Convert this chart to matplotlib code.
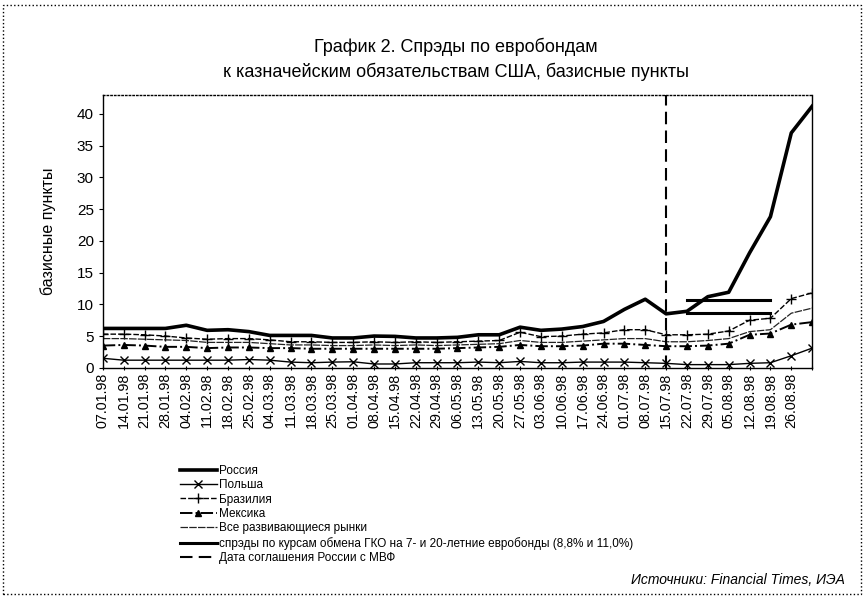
import matplotlib
matplotlib.use("Agg")
import matplotlib.pyplot as plt
import numpy as np
from matplotlib.patches import Rectangle

NARROW = ["Liberation Sans Narrow", "Liberation Sans", "DejaVu Sans"]
REGULAR = ["Liberation Sans", "DejaVu Sans"]
plt.rcParams["font.family"] = NARROW

dates = [
    "07.01.98", "14.01.98", "21.01.98", "28.01.98", "04.02.98", "11.02.98",
    "18.02.98", "25.02.98", "04.03.98", "11.03.98", "18.03.98", "25.03.98",
    "01.04.98", "08.04.98", "15.04.98", "22.04.98", "29.04.98", "06.05.98",
    "13.05.98", "20.05.98", "27.05.98", "03.06.98", "10.06.98", "17.06.98",
    "24.06.98", "01.07.98", "08.07.98", "15.07.98", "22.07.98", "29.07.98",
    "05.08.98", "12.08.98", "19.08.98", "26.08.98", "",
]

russia = [6.2, 6.2, 6.2, 6.2, 6.7, 5.9, 6.0, 5.7, 5.1, 5.1, 5.1, 4.7,
          4.7, 5.0, 4.95, 4.7, 4.7, 4.8, 5.2, 5.2, 6.4, 5.9, 6.1, 6.5,
          7.3, 9.2, 10.8, 8.5, 8.9, 11.2, 11.9, 18.1, 23.8, 37.0, 41.2]
poland = [1.5, 1.2, 1.2, 1.2, 1.2, 1.2, 1.2, 1.3, 1.2, 0.9, 0.8, 0.9,
          0.95, 0.6, 0.6, 0.8, 0.8, 0.8, 0.9, 0.8, 1.0, 0.8, 0.8, 0.9,
          0.9, 0.9, 0.8, 0.7, 0.5, 0.5, 0.5, 0.7, 0.8, 1.9, 3.1]
brazil = [5.3, 5.3, 5.2, 5.0, 4.7, 4.5, 4.6, 4.6, 4.4, 4.1, 4.1, 4.0,
          4.0, 4.1, 4.0, 4.1, 4.0, 4.1, 4.2, 4.3, 5.6, 4.9, 5.0, 5.3,
          5.5, 6.0, 6.0, 5.2, 5.2, 5.3, 5.8, 7.5, 7.8, 10.9, 11.8]
mexico = [3.5, 3.6, 3.5, 3.3, 3.3, 3.1, 3.2, 3.2, 3.1, 3.1, 3.0, 3.0,
          3.0, 3.0, 3.0, 3.0, 3.0, 3.1, 3.2, 3.3, 3.6, 3.4, 3.4, 3.5,
          3.8, 3.8, 3.6, 3.4, 3.4, 3.5, 3.8, 5.2, 5.4, 6.8, 7.2]
emerging = [4.6, 4.6, 4.5, 4.4, 4.3, 4.0, 4.0, 4.0, 3.8, 3.6, 3.6, 3.5,
            3.5, 3.6, 3.5, 3.6, 3.5, 3.6, 3.7, 3.8, 4.3, 4.0, 4.0, 4.2,
            4.4, 4.6, 4.6, 4.1, 4.1, 4.3, 4.6, 5.7, 6.0, 8.6, 9.4]

# GKO exchange spreads (two flat segments) and the IMF agreement date
gko_levels = [10.7, 8.6]
gko_start = 28
gko_end = 32
imf_date = 27

fig = plt.figure(figsize=(8.64, 6.0), dpi=100)
ax = fig.add_axes([0.119, 0.387, 0.821, 0.455])

x = np.arange(len(dates))
ax.plot(x, russia, color="black", lw=2.6, label="Россия")
ax.plot(x, poland, color="black", lw=1.0, marker="x", ms=6, mew=1.0,
        label="Польша")
ax.plot(x, brazil, color="black", lw=1.0, ls=(0, (4, 1.5)), marker="+",
        ms=7, mew=1.0, label="Бразилия")
ax.plot(x, mexico, color="black", lw=1.4, ls="-.", marker="^", ms=5,
        label="Мексика")
ax.plot(x, emerging, color="#222222", lw=0.9, ls=(0, (6, 1)),
        label="Все развивающиеся рынки")
for i, level in enumerate(gko_levels):
    ax.plot([gko_start, gko_end], [level, level], color="black", lw=2.2,
            label=("спрэды по курсам обмена ГКО на 7- и 20-летние "
                   "евробонды (8,8% и 11,0%)") if i == 0 else None)
ax.axvline(imf_date, color="black", lw=1.5, ls=(0, (6, 3)),
           label="Дата соглашения России с МВФ")

ax.set_xlim(0, len(dates) - 1)
ax.set_ylim(0, 43)
ax.set_yticks(np.arange(0, 45, 5))
ax.set_xticks(x)
ax.set_xticklabels(dates, rotation=90, fontsize=10.3, family=REGULAR)
for lbl in ax.get_yticklabels():
    lbl.set_family(REGULAR)
ax.tick_params(axis="y", labelsize=11, length=3, width=0.8)
ax.tick_params(axis="x", length=3, width=0.8, direction="inout", pad=2)
ax.set_ylabel("базисные пункты", fontsize=11.5, labelpad=15, family=REGULAR)

ax.spines["top"].set_linestyle(":")
for side in ["top", "right", "left", "bottom"]:
    ax.spines[side].set_linewidth(1.0)

fig.text(0.528, 0.922, "График 2. Спрэды по евробондам", ha="center",
         va="center", fontsize=13)
fig.text(0.528, 0.880, "к казначейским обязательствам США, базисные пункты",
         ha="center", va="center", fontsize=13)

fig.legend(loc="upper left", bbox_to_anchor=(0.201, 1 - 459 / 600),
           frameon=False, fontsize=8.5, handlelength=3.2, handletextpad=0.1,
           labelspacing=0.2, borderpad=0)

fig.text(0.978, 1 - 580 / 600, "Источники: Financial Times, ИЭА", ha="right",
         va="center", fontsize=10, style="italic", family=REGULAR)

fig.patches.append(Rectangle((0.004, 0.010), 0.992, 0.982,
                             transform=fig.transFigure, fill=False,
                             edgecolor="black", lw=1.0, ls=":"))

fig.savefig("out.png", dpi=100)
